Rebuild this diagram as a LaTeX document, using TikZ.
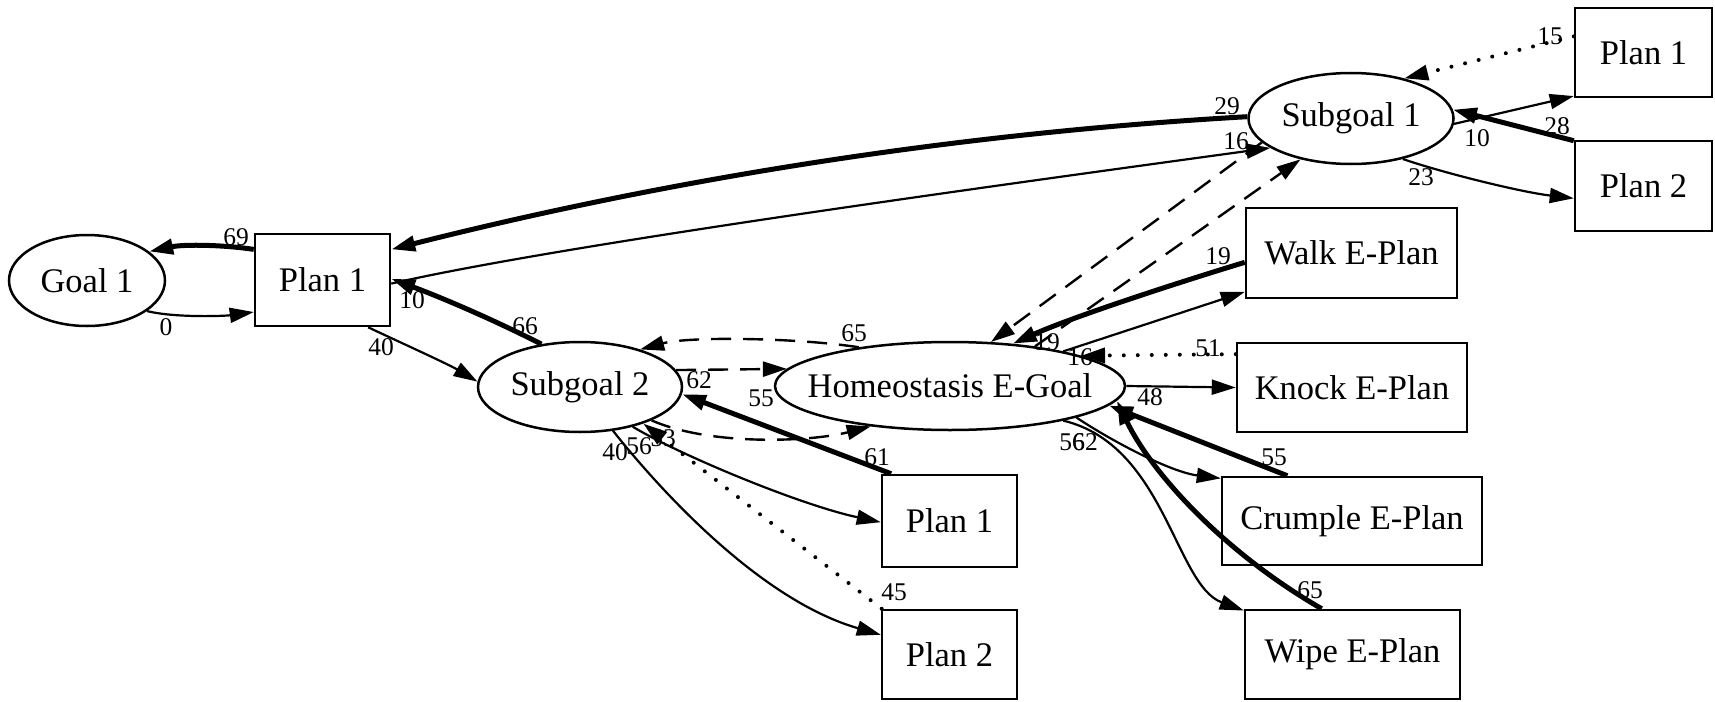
\documentclass[tikz,border=0pt]{standalone}
\usepackage{fontspec}
\setmainfont{Liberation Serif}
\usetikzlibrary{shapes.geometric,arrows.meta}
\begin{document}
\begin{tikzpicture}[x=1pt,y=-1pt,
  every node/.style={font=\fontsize{34.5}{36}\selectfont},
  ebox/.style={ellipse,draw,line width=2.5pt,inner sep=0pt,inner xsep=-30pt},
  rbox/.style={rectangle,draw,line width=2.5pt,inner sep=0pt},
  lab/.style={font=\fontsize{25.5}{26}\selectfont,inner sep=0pt},
  tip/.style={-{Triangle[length=24pt,width=15pt]}},
  tedge/.style={tip,line width=2.2pt},
  hedge/.style={tip,line width=5pt},
  dedge/.style={tip,line width=2.4pt,dash pattern=on 20pt off 12pt},
  oedge/.style={tip,line width=4pt,line cap=round,dash pattern=on 0pt off 14pt},
]
\useasboundingbox (0,0) rectangle (1715,701);

% goals and plans
\node[ebox,minimum width=156pt,minimum height=91pt] (g1) at (87,280.5) {Goal 1};
\node[rbox,minimum width=135pt,minimum height=92pt] (p1) at (322.5,280) {Plan 1};
\node[ebox,minimum width=204pt,minimum height=90pt] (sg2) at (580,387) {Subgoal 2};
\node[ebox,minimum width=350pt,minimum height=88pt] (he) at (950,386) {Homeostasis E-Goal};
\node[ebox,minimum width=205pt,minimum height=91pt] (sg1) at (1351,118.5) {Subgoal 1};
\node[rbox,minimum width=137pt,minimum height=89pt] (tp1) at (1643.5,52.5) {Plan 1};
\node[rbox,minimum width=137pt,minimum height=90pt] (tp2) at (1643.5,186) {Plan 2};
\node[rbox,minimum width=135pt,minimum height=92pt] (mp1) at (949.5,521) {Plan 1};
\node[rbox,minimum width=135pt,minimum height=89pt] (mp2) at (949.5,654.5) {Plan 2};
\node[rbox,minimum width=211pt,minimum height=90pt] (walk) at (1351.5,253) {Walk E-Plan};
\node[rbox,minimum width=230pt,minimum height=89pt] (knock) at (1352,387.5) {Knock E-Plan};
\node[rbox,minimum width=260pt,minimum height=88pt] (crumple) at (1352,521) {Crumple E-Plan};
\node[rbox,minimum width=215pt,minimum height=89pt] (wipe) at (1352.5,654.5) {Wipe E-Plan};

% edge weights
\node[lab] (l69) at (236,237) {69};
\node[lab] (l0) at (166,327) {0};
\node[lab] (l29) at (1227,106) {29};
\node[lab] (l10a) at (412,300) {10};
\node[lab] (l40a) at (381,347) {40};
\node[lab] (l66) at (525,326) {66};
\node[lab] (l16a) at (1236,141) {16};
\node[lab] (l19a) at (1047,342) {19};
\node[lab] (l19b) at (1218,256) {19};
\node[lab] (l16b) at (1080,357) {16};
\node[lab] (l51) at (1208,348) {51};
\node[lab] (l48) at (1150,397) {48};
\node[lab] (l55a) at (1274,457) {55};
\node[lab] (l65a) at (1310,590) {65};
\node[lab] (l56a) at (1072,442) {56};
\node[lab] (l62a) at (1085,442) {62};
\node[lab] (l15) at (1550,36) {15};
\node[lab] (l10b) at (1477,138) {10};
\node[lab] (l28) at (1557,126) {28};
\node[lab] (l23) at (1421,177) {23};
\node[lab] (l65b) at (854,333) {65};
\node[lab] (l62b) at (699,380) {62};
\node[lab] (l55b) at (761,398) {55};
\node[lab] (l53) at (663,438) {53};
\node[lab] (l56b) at (639,446) {56};
\node[lab] (l40b) at (615,452) {40};
\node[lab] (l45) at (894,592) {45};
\node[lab] (l61) at (877,457) {61};

% left part
\draw[hedge] (p1.156) .. controls (225,245) and (185,244) .. (g1.25);
\draw[tedge] (g1.-27) .. controls (175,318) and (225,316) .. (p1.205);
\draw[hedge] (sg1.179) .. controls (959,133) and (674,178) .. (p1.24);
\draw[tedge] (p1.-3) .. controls (560,245) and (1000,185) .. (sg1.200);
\draw[tedge] (p1.-46) .. controls (395,340) and (448,364) .. (sg2.177);
\draw[hedge] (sg2.132) .. controls (490,318) and (440,297) .. (p1.1);

% subgoal 1 and its plans
\draw[dedge] (sg1.195) -- (he.47);
\draw[dedge] (he.25) -- (sg1.219);
\draw[oedge] (tp1.167) -- (sg1.37);
\draw[tedge] (sg1.-3) -- (tp1.212);
\draw[hedge] (tp2.147) -- (sg1.5);
\draw[tedge] (sg1.-38) .. controls (1440,172) and (1520,192) .. (tp2.190);

% homeostasis e-plans
\draw[hedge] (walk.185) .. controls (1170,285) and (1070,318) .. (he.34);
\draw[tedge] (he.17) -- (walk.200);
\draw[oedge] (knock.164) -- (he.13);
\draw[tedge] (he.east) -- (knock.west);
\draw[hedge] (crumple.145) -- (he.-7);
\draw[hedge] (wipe.124) .. controls (1220,550) and (1150,470) .. (he.-5);
\draw[tedge] (he.-14) .. controls (1110,440) and (1170,472) .. (crumple.162);
\draw[tedge] (he.-17) .. controls (1165,445) and (1175,585) .. (wipe.158);

% subgoal 2
\draw[dedge] (he.157) .. controls (800,338) and (690,336) .. (sg2.32);
\draw[dedge] (sg2.10) -- (he.174);
\draw[dedge] (sg2.-25) .. controls (710,446) and (810,442) .. (he.207);
\draw[tedge] (sg2.-37) .. controls (680,455) and (800,505) .. (mp1.181);
\draw[tedge] (sg2.-53) .. controls (660,490) and (760,600) .. (mp2.164);
\draw[oedge] (mp2.146) -- (sg2.-30);
\draw[hedge] (mp1.141) -- (sg2.-4);
\end{tikzpicture}
\end{document}
